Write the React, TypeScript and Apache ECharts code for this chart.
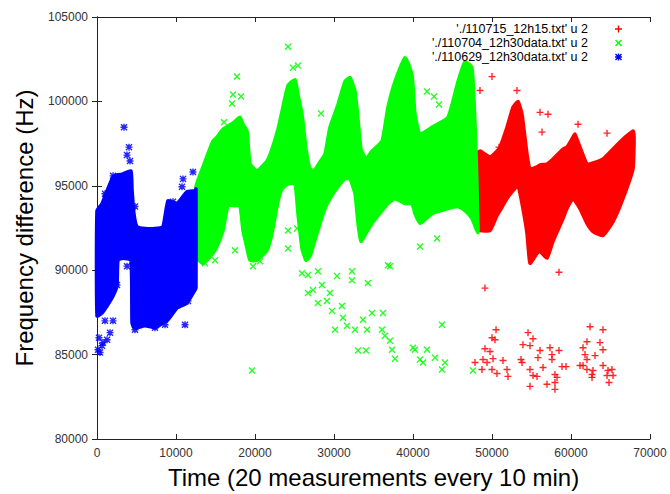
import React, { useEffect, useRef } from "react";
import * as echarts from "echarts";

// ---- Data ----
const xTicks = [0, 10000, 20000, 30000, 40000, 50000, 60000, 70000];
const yTicks = [80000, 85000, 90000, 95000, 100000, 105000];

const seriesNames = [
  "'./110715_12h15.txt' u 2",
  "'./110704_12h30data.txt' u 2",
  "'./110629_12h30data.txt' u 2",
];

// Dense bands (envelope of the point clouds): x, upper, lower
const blueX = [0, 630, 1270, 2030, 2530, 2660, 3290, 4300, 4430, 4680, 5060, 6080, 7340, 8350, 8990, 10130, 11390, 12400, 12530];
const blueTop = [93530, 93940, 94710, 95530, 95650, 95650, 95710, 95880, 94820, 93350, 92590, 92470, 92470, 92590, 94120, 93940, 94650, 94710, 94820];
const blueBottom = [87290, 87470, 87880, 88470, 89060, 90590, 90710, 90590, 86880, 86590, 86590, 86710, 86590, 86880, 87060, 87760, 88060, 88820, 88940];

const greenX = [12530, 13420, 14680, 15190, 15950, 16580, 17470, 18100, 18480, 18990, 19370, 20250, 21520, 22150, 22910, 23420, 24180, 25060, 25440, 25950, 26460, 26960, 27470, 28230, 28860, 29490, 30510, 31390, 32020, 32660, 33040, 33420, 34050, 34810, 36080, 36830, 37720, 38990, 39870, 40250, 40890, 42400, 44430, 45700, 46580, 47470, 47970, 48230];
const greenTop = [94940, 96120, 97650, 97880, 98350, 98530, 98820, 99060, 98650, 98240, 96290, 95880, 96470, 97180, 98350, 99410, 100940, 101290, 100410, 99240, 97180, 96000, 95880, 96410, 96880, 98470, 99820, 101180, 101410, 100590, 98940, 97180, 96590, 97060, 97650, 99650, 101180, 102590, 101590, 99240, 98060, 98470, 99060, 101180, 102350, 102000, 97180, 92590];
const greenBottom = [90820, 90410, 91000, 91410, 92350, 93820, 93820, 93820, 92350, 91290, 90590, 90590, 91180, 92180, 94060, 94820, 95120, 95120, 93350, 91290, 90590, 90820, 91590, 92770, 93650, 94240, 94940, 95410, 95410, 94530, 92770, 91710, 92180, 92770, 93530, 93940, 94240, 93940, 93940, 93350, 92770, 93350, 93650, 93770, 93530, 93060, 92470, 92240];

const redX = [48100, 48480, 49750, 50630, 51010, 51900, 52660, 53290, 53800, 54430, 54810, 55700, 56080, 56960, 57720, 58990, 59490, 60250, 60500, 61140, 62020, 62780, 64050, 65320, 66580, 67850, 67970];
const redTop = [96880, 97060, 96710, 97060, 97290, 98470, 99650, 100000, 99240, 96880, 96000, 96120, 96240, 96290, 96590, 97180, 97290, 97880, 98060, 97290, 96290, 96350, 96590, 97180, 97770, 98240, 98060];
const redBottom = [92470, 92350, 92350, 93240, 93530, 94240, 94710, 95000, 93940, 92180, 90410, 91000, 91120, 90710, 91710, 93060, 93650, 94240, 94120, 93650, 92770, 92290, 92060, 92880, 94240, 96000, 97180];

// Isolated points outside the dense bands
const blueOutliers = [
  [3420, 98470], [4050, 97290], [3800, 96820], [4180, 96470], [2030, 95590], [1010, 94530],
  [10760, 94940], [10890, 95410], [12150, 95820], [4810, 93770], [9620, 94060], [3290, 90880],
  [3800, 90240], [2530, 89120], [2030, 87000], [1010, 87000], [1270, 85880], [630, 85530],
  [130, 85290], [380, 85120], [760, 85710], [4810, 86470], [7340, 86590], [8610, 86770],
  [11140, 86770], [10130, 88530], [11520, 88180], [1650, 86300], [250, 86000],
];

const greenOutliers = [
  [17720, 101470], [17210, 100410], [18230, 100290], [17090, 99880], [16080, 98760], [15570, 97770],
  [24180, 103240], [24810, 102000], [25440, 102120], [28350, 99290], [41770, 100590], [42660, 100290],
  [43290, 99820], [24180, 92350], [24180, 91290], [26710, 88650], [28480, 89120], [30380, 89650],
  [32280, 89940], [32280, 89410], [34300, 89240], [37090, 90240], [40890, 91410], [43040, 91880],
  [29490, 88650], [29110, 88180], [29750, 87590], [31140, 87180], [31650, 86710], [30130, 86470],
  [32660, 86470], [33670, 87060], [34810, 87470], [36200, 87470], [34180, 86470], [36080, 86470],
  [36450, 86120], [37340, 85290], [37720, 84760], [33040, 85240], [34050, 85240], [31010, 87880],
  [40250, 85290], [41270, 84530], [41770, 85290], [42780, 84820], [43670, 84120], [44050, 84530],
  [43670, 86770], [26710, 89710], [25950, 89820], [27970, 89940], [19620, 84060], [13670, 90410],
  [14940, 90590], [17470, 91180], [19750, 90240], [20630, 90530], [47590, 84060], [36830, 90290],
  [40000, 85410], [40890, 84710], [37090, 85820], [27340, 88820], [27970, 88060], [25320, 92470],
];

const redOutliers = [
  [49110, 88940], [58480, 89880], [50510, 86470], [50000, 86000], [50380, 85880], [49110, 85350],
  [49750, 85180], [48860, 84710], [49370, 84530], [50130, 84760], [47850, 84530], [48730, 84120],
  [50000, 84120], [50630, 83880], [51390, 84650], [51900, 84120], [52020, 83710], [54560, 86300],
  [55190, 85940], [53920, 85590], [54810, 85530], [56080, 85240], [55820, 84820], [53670, 84710],
  [53800, 84530], [57340, 85410], [57590, 85000], [58480, 85240], [57590, 84710], [56460, 84240],
  [54810, 84120], [55190, 83760], [55700, 83710], [57970, 83820], [58230, 83650], [56960, 83240],
  [57970, 83350], [57970, 82940], [54810, 83120], [58860, 84290], [59370, 84290], [62410, 86650],
  [64050, 86470], [62020, 85760], [63670, 85710], [61520, 85410], [64050, 85290], [61770, 85000],
  [63040, 84940], [62020, 84710], [61140, 84350], [61520, 84350], [62020, 84120], [62660, 83820],
  [62780, 84060], [62660, 83650], [64050, 84350], [64680, 84060], [65190, 84120], [64560, 83760],
  [65320, 83760], [64810, 83350], [50000, 101470], [48480, 100650], [53160, 100650], [56080, 99350],
  [57090, 99240], [56330, 98180], [64560, 98120], [60890, 98650], [50890, 97290],
];

// ---- Styling ----
const RED = "#ff0000";
const GREEN = "#00ff00";
const BLUE = "#0000ff";
const FONT = "'Liberation Sans', Arial, Helvetica, sans-serif";

const PLUS = "M4,0H6V4H10V6H6V10H4V6H0V4H4Z";
const CROSS = "M1.4,0L5,3.6L8.6,0L10,1.4L6.4,5L10,8.6L8.6,10L5,6.4L1.4,10L0,8.6L3.6,5L0,1.4Z";
const SYM_PLUS = "path://" + PLUS;
const SYM_CROSS = "path://" + CROSS;
const SYM_STAR = "path://" + PLUS + " " + CROSS;

function bandSeries(name: string, xs: number[], top: number[], bot: number[], color: string) {
  return {
    type: "custom",
    name,
    coordinateSystem: "cartesian2d",
    data: xs.map((x, i) => [x, top[i], bot[i]]),
    encode: { x: 0, y: [1, 2] },
    silent: true,
    renderItem: (params: any, api: any) => {
      if (params.dataIndex !== 0) return null;
      const pts: number[][] = [];
      for (let i = 0; i < xs.length; i++) pts.push(api.coord([xs[i], top[i]]));
      for (let i = xs.length - 1; i >= 0; i--) pts.push(api.coord([xs[i], bot[i]]));
      return {
        type: "polygon",
        shape: { points: pts, smooth: 0.15 },
        style: { fill: color, stroke: color, lineWidth: 3.5, lineJoin: "round" },
      };
    },
    itemStyle: { color },
  };
}

function pointSeries(name: string, data: number[][], color: string, symbol: string) {
  return {
    type: "scatter",
    name,
    data,
    symbol,
    symbolSize: 7,
    itemStyle: { color, opacity: 0.85 },
    silent: true,
  };
}

export default function App() {
  const ref = useRef<HTMLDivElement>(null);
  useEffect(() => {
    if (!ref.current) return;
    const chart = echarts.init(ref.current, undefined, { renderer: "svg" });
    const axisLine = { show: true, lineStyle: { color: "#222", width: 1 } };
    const tick = { show: true, inside: true, length: 5, lineStyle: { color: "#222" } };
    chart.setOption({
      animation: false,
      backgroundColor: "#ffffff",
      grid: { left: 97, right: 20, top: 17, bottom: 51, containLabel: false },
      legend: {
        orient: "vertical",
        right: 43,
        top: 17,
        align: "right",
        itemWidth: 51,
        itemHeight: 7,
        itemGap: 0,
        selectedMode: false,
        textStyle: { fontFamily: FONT, fontSize: 12.5, lineHeight: 14, color: "#000" },
        data: [
          { name: seriesNames[0], icon: SYM_PLUS },
          { name: seriesNames[1], icon: SYM_CROSS },
          { name: seriesNames[2], icon: SYM_STAR },
        ],
      },
      xAxis: [
        {
          type: "value",
          min: xTicks[0],
          max: xTicks[xTicks.length - 1],
          interval: xTicks[1] - xTicks[0],
          position: "bottom",
          name: "Time (20 measurements every 10 min)",
          nameLocation: "middle",
          nameGap: 26,
          nameTextStyle: { fontFamily: FONT, fontSize: 24, color: "#000" },
          axisLine,
          axisTick: tick,
          splitLine: { show: false },
          axisLabel: { fontFamily: FONT, fontSize: 12, color: "#333", margin: 8, formatter: (v: number) => String(v) },
        },
        {
          type: "value",
          min: xTicks[0],
          max: xTicks[xTicks.length - 1],
          interval: xTicks[1] - xTicks[0],
          position: "top",
          axisLine,
          axisTick: tick,
          splitLine: { show: false },
          axisLabel: { show: false },
        },
      ],
      yAxis: [
        {
          type: "value",
          min: yTicks[0],
          max: yTicks[yTicks.length - 1],
          interval: yTicks[1] - yTicks[0],
          position: "left",
          name: "Frequency difference (Hz)",
          nameLocation: "middle",
          nameGap: 61,
          nameTextStyle: { fontFamily: FONT, fontSize: 24, color: "#000" },
          axisLine,
          axisTick: tick,
          splitLine: { show: false },
          axisLabel: { fontFamily: FONT, fontSize: 12, color: "#333", margin: 9, formatter: (v: number) => String(v) },
        },
        {
          type: "value",
          min: yTicks[0],
          max: yTicks[yTicks.length - 1],
          interval: yTicks[1] - yTicks[0],
          position: "right",
          axisLine,
          axisTick: tick,
          splitLine: { show: false },
          axisLabel: { show: false },
        },
      ],
      series: [
        bandSeries(seriesNames[0], redX, redTop, redBottom, RED),
        pointSeries(seriesNames[0], redOutliers, RED, SYM_PLUS),
        bandSeries(seriesNames[1], greenX, greenTop, greenBottom, GREEN),
        pointSeries(seriesNames[1], greenOutliers, GREEN, SYM_CROSS),
        bandSeries(seriesNames[2], blueX, blueTop, blueBottom, BLUE),
        pointSeries(seriesNames[2], blueOutliers, BLUE, SYM_STAR),
      ],
    });
    return () => chart.dispose();
  }, []);
  return (
    <div
      ref={ref}
      style={{ position: "fixed", left: 0, top: 0, width: 670, height: 494, background: "#fff" }}
    />
  );
}
